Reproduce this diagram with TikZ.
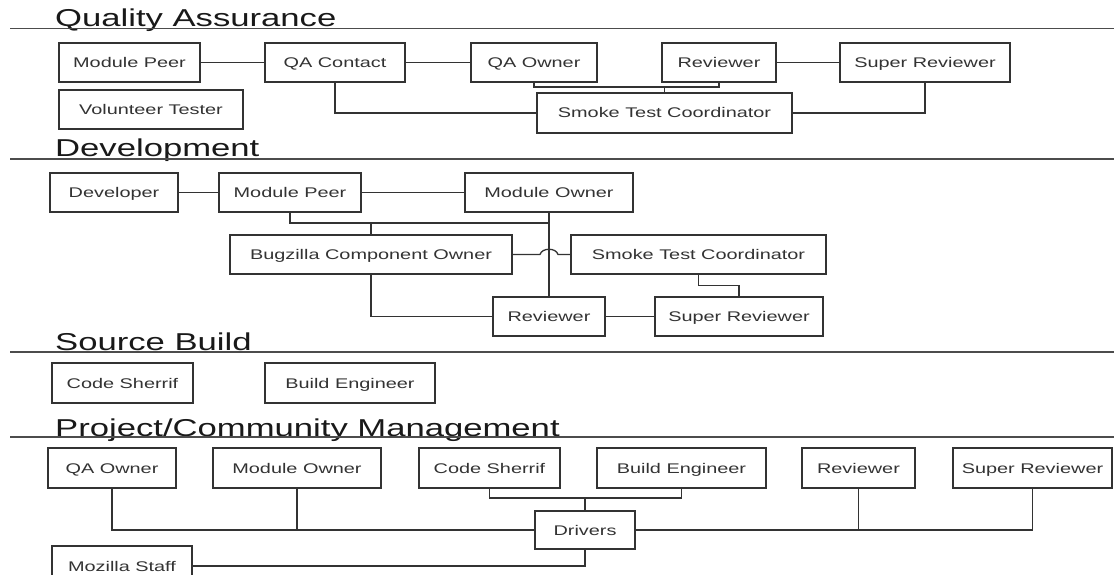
\documentclass[tikz,border=0pt]{standalone}
\usepackage{fontspec}
\setmainfont{Liberation Sans}[FakeStretch=1.42]
\usetikzlibrary{calc}
\begin{document}
\begin{tikzpicture}[x=1pt,y=-1pt,
  box/.style={draw=black!80, line width=1.3pt, fill=white, inner sep=0pt, outer sep=0pt,
              text=black!80, font=\fontsize{14}{16}\selectfont, text height=10pt, text depth=0pt},
  conn/.style={draw=black!80, line width=1.3pt},
  ttl/.style={anchor=base west, inner sep=0pt, text=black!90, font=\fontsize{24.4}{28}\selectfont},
  rule/.style={draw=black!70, line width=1.3pt}]
\useasboundingbox (0,0) rectangle (1114,575);

% ---------------- Quality Assurance ----------------
\node[ttl] (tqa) at (55,27) {Quality Assurance};
\draw[rule] (10,28.5) -- (1114,28.5);
\node[box, minimum width=141pt, minimum height=39pt] (qmp) at (129.5,62.5) {Module Peer};
\node[box, minimum width=140pt, minimum height=39pt] (qac) at (335,62.5) {QA Contact};
\node[box, minimum width=126pt, minimum height=39pt] (qao) at (534,62.5) {QA Owner};
\node[box, minimum width=114pt, minimum height=39pt] (qrv) at (719,62.5) {Reviewer};
\node[box, minimum width=170pt, minimum height=39pt] (qsr) at (925,62.5) {Super Reviewer};
\node[box, minimum width=184pt, minimum height=39pt] (qvt) at (151,109.5) {Volunteer Tester};
\node[box, minimum width=255pt, minimum height=40pt] (qst) at (664.5,113) {Smoke Test Coordinator};
\path (qst.north) ++(0,-6) coordinate (qj);
\draw[conn] (qmp.east) -- (qac.west);
\draw[conn] (qac.east) -- (qao.west);
\draw[conn] (qrv.east) -- (qsr.west);
\draw[conn] (qac.south) |- (qst.west);
\draw[conn] (qsr.south) |- (qst.east);
\draw[conn] (qao.south) |- (qj) -| (qrv.south);
\draw[conn] (qj) -- (qst.north);

% ---------------- Development ----------------
\node[ttl] (tdv) at (55,157) {Development};
\draw[rule] (10,159) -- (1114,159);
\node[box, minimum width=128pt, minimum height=39pt] (ddv) at (114,192.5) {Developer};
\node[box, minimum width=142pt, minimum height=39pt] (dmp) at (290,192.5) {Module Peer};
\node[box, minimum width=168pt, minimum height=39pt] (dmo) at (549,192.5) {Module Owner};
\node[box, minimum width=282pt, minimum height=39pt] (dbz) at (371,254.5) {Bugzilla Component Owner};
\node[box, minimum width=255pt, minimum height=39pt] (dst) at (698.5,254.5) {Smoke Test Coordinator};
\node[box, minimum width=112pt, minimum height=39pt] (drv) at (549,316.5) {Reviewer};
\node[box, minimum width=168pt, minimum height=39pt] (dsr) at (739,316.5) {Super Reviewer};
\coordinate (dj) at ($(dmo.south)+(0,11)$);
\coordinate (dx) at (dmo.south |- dbz.east);
\draw[conn] (ddv.east) -- (dmp.west);
\draw[conn] (dmp.east) -- (dmo.west);
\draw[conn] (dmp.south) |- (dj);
\draw[conn] (dbz.north) -- (dbz.north |- dj);
\draw[conn] (dmo.south) -- (drv.north);
\draw[conn] (dbz.east) -- ($(dx)+(-9,0)$) .. controls ($(dx)+(-7,-7)$) and ($(dx)+(7,-7)$) .. ($(dx)+(9,0)$) -- (dst.west);
\draw[conn] (dbz.south) |- (drv.west);
\draw[conn] (drv.east) -- (dsr.west);
\draw[conn] (dst.south) |- ($(dst.south)!0.5!(dsr.north)$) -| (dsr.north);

% ---------------- Source Build ----------------
\node[ttl] (tsb) at (55,350) {Source Build};
\draw[rule] (10,352) -- (1114,352);
\node[box, minimum width=141pt, minimum height=40pt] (scs) at (122.5,383) {Code Sherrif};
\node[box, minimum width=170pt, minimum height=40pt] (sbe) at (350,383) {Build Engineer};

% ---------------- Project/Community Management ----------------
\node[ttl] (tpc) at (55,436) {Project/Community Management};
\draw[rule] (10,437) -- (1114,437);
\node[box, minimum width=128pt, minimum height=40pt] (pqa) at (112,468) {QA Owner};
\node[box, minimum width=168pt, minimum height=40pt] (pmo) at (297,468) {Module Owner};
\node[box, minimum width=141pt, minimum height=40pt] (pcs) at (489.5,468) {Code Sherrif};
\node[box, minimum width=169pt, minimum height=40pt] (pbe) at (681.5,468) {Build Engineer};
\node[box, minimum width=113pt, minimum height=40pt] (prv) at (858.5,468) {Reviewer};
\node[box, minimum width=159pt, minimum height=40pt] (psr) at (1032.5,468) {Super Reviewer};
\node[box, minimum width=100pt, minimum height=38pt] (pdr) at (585,530) {Drivers};
\node[box, minimum width=140pt, minimum height=40pt] (pms) at (122,566) {Mozilla Staff};
\coordinate (pj) at ($(pdr.north)+(0,-13)$);
\draw[conn] (pqa.south) |- (pdr.west);
\draw[conn] (pmo.south) -- (pmo.south |- pdr.west);
\draw[conn] (pcs.south) |- (pj) -| (pbe.south);
\draw[conn] (pj) -- (pdr.north);
\draw[conn] (psr.south) |- (pdr.east);
\draw[conn] (prv.south) -- (prv.south |- pdr.east);
\draw[conn] (pdr.south) |- (pms.east);
\end{tikzpicture}
\end{document}
